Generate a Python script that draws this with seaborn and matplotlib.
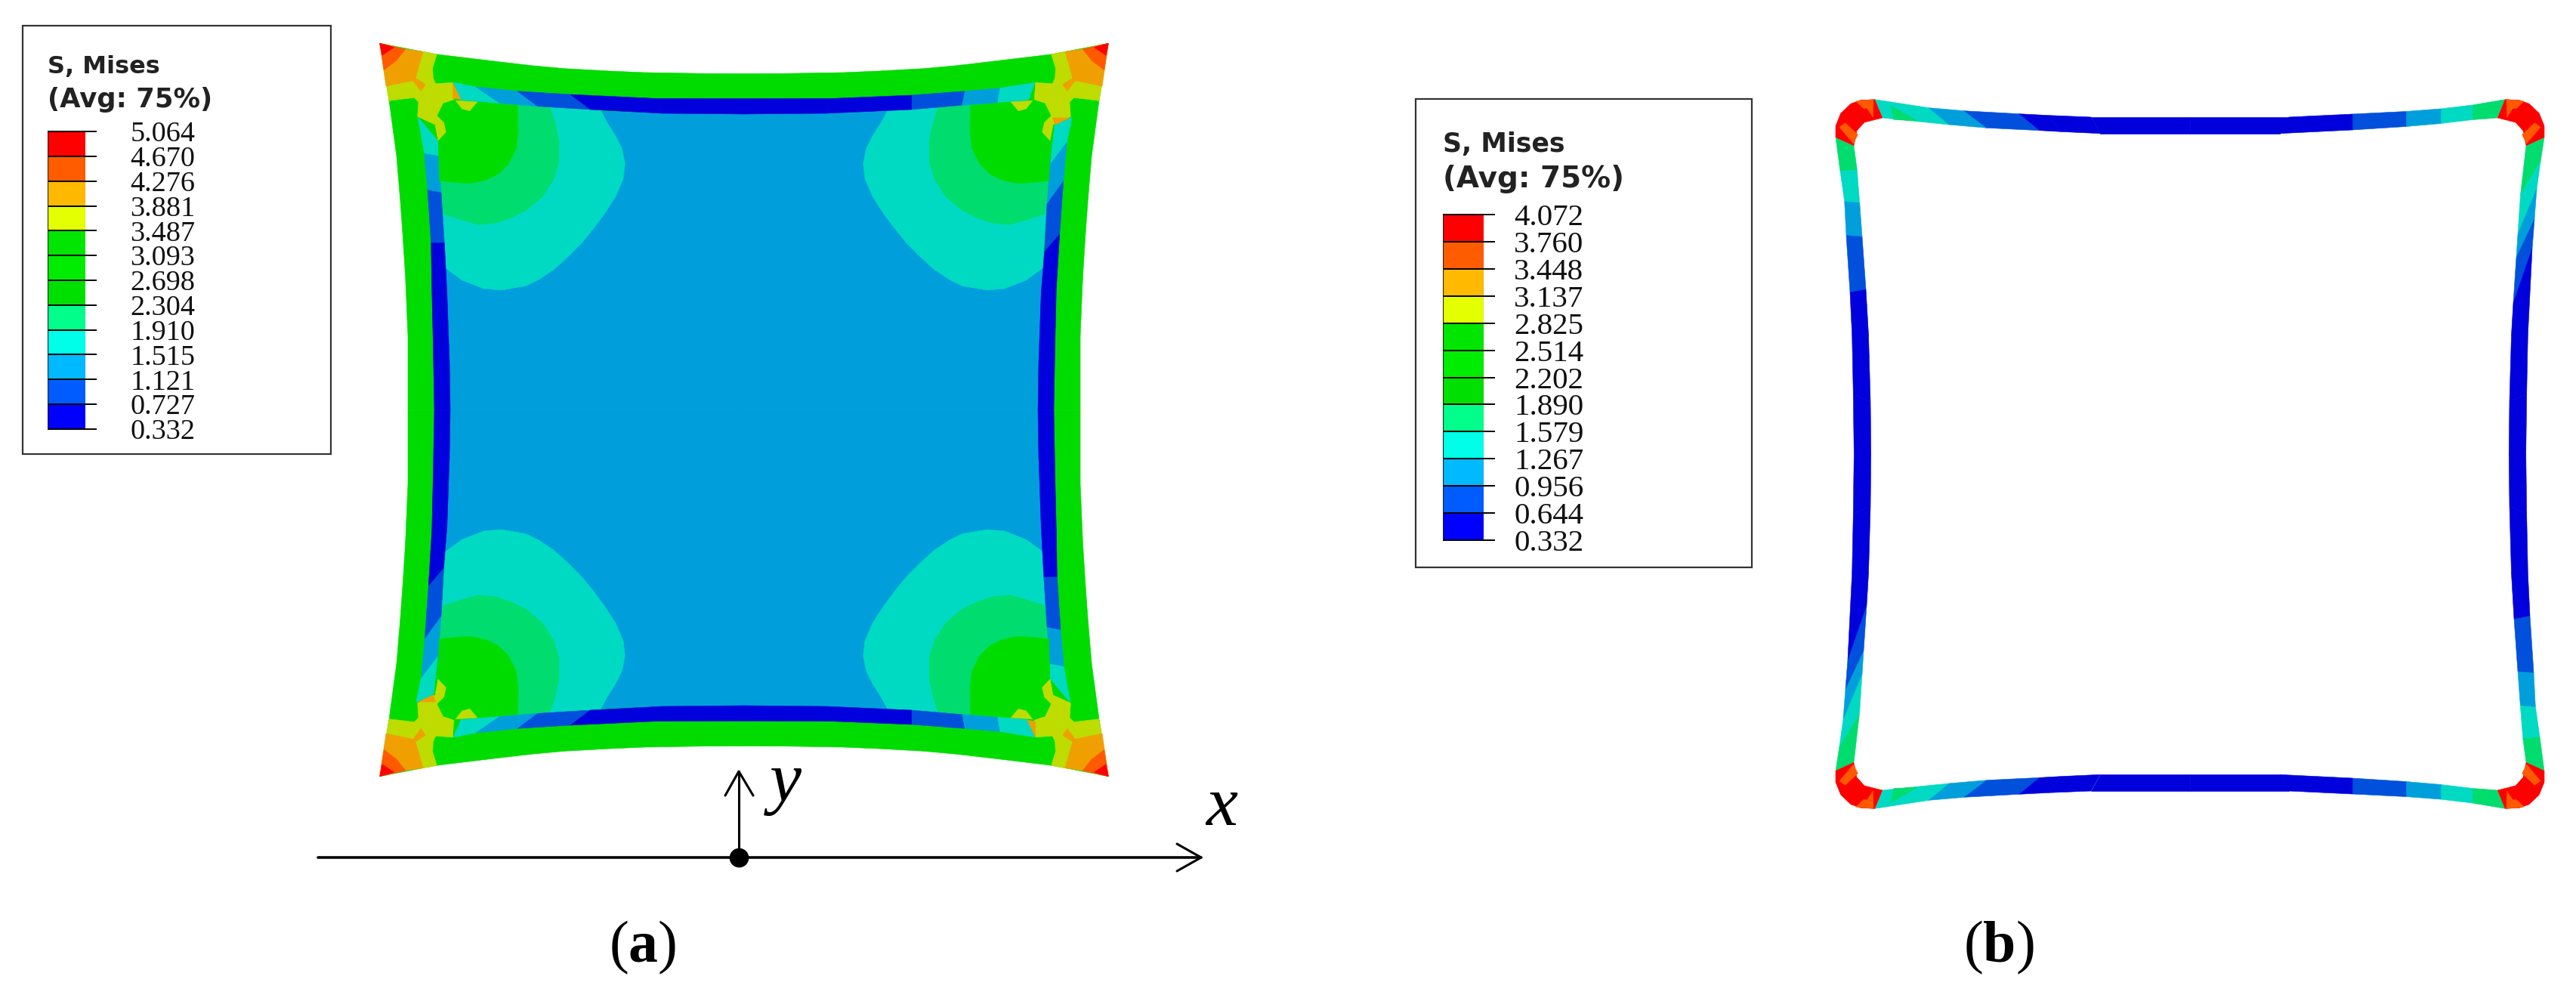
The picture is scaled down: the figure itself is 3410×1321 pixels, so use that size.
"""
Von Mises stress contours of a square membrane, (a) and (b), redrawn with seaborn.
Writes: out.png
"""

import matplotlib
matplotlib.use('Agg')
import matplotlib.pyplot as plt
from matplotlib.colors import ListedColormap
from matplotlib.patches import Rectangle
import numpy as np
import seaborn as sns

W, H = 3410, 1321

# ── Legend values ─────────────────────────────────────────────────────────────
LABELS_A = ['5.064', '4.670', '4.276', '3.881', '3.487', '3.093', '2.698',
            '2.304', '1.910', '1.515', '1.121', '0.727', '0.332']
LABELS_B = ['4.072', '3.760', '3.448', '3.137', '2.825', '2.514', '2.202',
            '1.890', '1.579', '1.267', '0.956', '0.644', '0.332']
LEGEND_COLORS = ['#FF0000', '#FF5C00', '#FFB900', '#E3FF00', '#00E600', '#00EC00',
                 '#00E000', '#00FF8A', '#00FFE8', '#00B9FF', '#005CFF', '#0000FF']

# contour colours are a little darker than the legend swatches
RED, DORANGE, ORANGE, YELLOW = '#FF0000', '#FF5A00', '#EFA000', '#BEDC00'
GREEN, LGREEN, TEAL = '#00DC00', '#00DC6E', '#00DAC2'
BLUE, MBLUE, DBLUE = '#009FDC', '#0050DC', '#0000DC'

# ── Panel (a): corner outlines in image pixels, written for the top-left corner
A_CX, A_CY = 985, 542.5
A_OUTER = [(540, 542.5), (540, 445), (536.7, 367), (533.3, 313), (530, 267), (525, 207), (515, 133),
           (502.7, 57.3), (576.7, 71.7), (660, 81.7), (703, 86.7), (746.7, 90.7), (806.7, 94),
           (853, 96), (931.7, 97.3), (985, 97.5)]
A_INNER = [(596, 542.5), (595, 480), (591.7, 387), (588.3, 333), (583.3, 250), (580, 210), (580, 186.7),
           (610, 131.7), (660, 136.7), (713, 140.7), (793, 146.7), (876.7, 150), (985, 151)]

# band between green rim and plate: rim edge, plate edge, colour of each piece
A_TOP_SLANT_RIM = [(600, 109), (630, 115), (685, 120.7), (755, 125), (866.7, 130.3), (985, 130.7)]
A_TOP_SLANT_IN = [(610, 131.7), (661.7, 136.7), (711.7, 140.7), (781.7, 145), (876.7, 150), (985, 151)]
A_TOP_FLAT_RIM = [(600, 109.3), (646.7, 116.7), (693.3, 120.7), (763.3, 126), (866.7, 130.3), (985, 130.7)]
A_TOP_FLAT_IN = [(608.3, 131.7), (650, 136), (697, 139.3), (763.3, 145), (876.7, 150), (985, 151)]
A_TOP_COLORS = [TEAL, BLUE, MBLUE, DBLUE, DBLUE]
A_SIDE_FLAT_RIM = [(553.3, 155), (561.7, 203.3), (566, 251.7), (570.7, 321.7), (571.7, 383), (573.3, 450), (575, 542.5)]
A_SIDE_FLAT_IN = [(580, 186.7), (580, 206.7), (584, 255), (588.3, 321.7), (591.7, 387), (595, 480), (596, 542.5)]
A_SIDE_SLANT_RIM = [(550.7, 155), (557.7, 188.3), (562.3, 240), (567.3, 310), (571.7, 383), (573.3, 450), (575, 542.5)]
A_SIDE_SLANT_IN = [(574, 166), (579.3, 216.7), (584, 270), (587.3, 333.3), (591.7, 387), (595, 480), (596, 542.5)]
A_SIDE_COLORS = [TEAL, BLUE, MBLUE, DBLUE, DBLUE, DBLUE]

A_TEAL = [(795, 146), (803.3, 161.7), (815, 180), (823.3, 196.7), (827.3, 216.7), (825, 236.7), (815, 260),
          (800, 283.3), (785, 303.3), (770, 321.7), (751.7, 340), (733.3, 356.7), (713.3, 370),
          (696.7, 378.3), (664, 384), (640, 382), (612, 371), (590, 355),
          (583.3, 250), (580, 186.7), (610, 131.7), (713, 140.7)]
A_LGREEN = [(728.3, 142.7), (735, 163.3), (740, 186.7), (740, 213.3), (733.3, 236.7), (718.3, 260),
            (696.7, 278.3), (676.7, 288.3), (656.7, 295), (633.3, 297.3), (613.3, 291.7), (586.7, 283.3),
            (583.3, 250), (580, 186.7), (610, 131.7), (713, 140.7)]
A_BULB = [(685, 139.3), (686, 173.3), (683.3, 196.7), (673.3, 216.7), (660, 230), (643.3, 238.3),
          (623.3, 242.7), (606.7, 241.7), (581.7, 239.3), (580, 187), (591, 175), (588, 162), (579, 153),
          (587, 137), (603, 133), (617, 145), (623, 147), (632, 135)]
A_YELLOW = [(560, 68.3), (578.3, 71.7), (572.7, 90), (573.3, 103.3), (576.7, 110.7),
            (599.3, 109.3), (600.7, 131.7), (586.7, 136.7), (579.3, 153.3), (588.3, 161.7),
            (590.7, 175), (580, 186), (576, 165), (552.7, 154.3), (554, 135), (548.3, 129.3),
            (515, 133.3), (511.7, 114), (543.3, 106.7), (550, 103.3)]
A_YELLOW_SMALL = [(603.3, 133.3), (631.7, 135), (621.7, 146.7), (611.7, 144)]
A_ORANGE = [(502.7, 57.3), (536.7, 65), (560, 68.3), (550, 103.3), (563.3, 111.7),
            (557.3, 120.7), (546.7, 106.7), (511, 114)]
A_SLIVER_UP = [(599.3, 109.3), (610, 131.7), (599.3, 130)]
A_SLIVER_SIDE = [(576.7, 156), (554, 156), (573.3, 165)]
A_DORANGE = [(502.7, 57.3), (536.7, 65), (525, 80), (508.3, 92.7)]
A_RED = [(502.7, 57.3), (521.7, 62.7), (506, 73.3)]

# ── Panel (b): corner outlines in image pixels ────────────────────────────────
B_CX, B_CY = 2899, 601
B_TOP_SLANT_OUT = [(2481.7, 131.7), (2553.3, 142.7), (2600, 146.7), (2673, 150.7), (2711.7, 152.7), (2768, 155), (2899, 155)]
B_TOP_SLANT_IN = [(2491.7, 156), (2580, 165), (2630, 169.3), (2700, 172.7), (2728, 174.3), (2780, 176.7), (2899, 176.7)]
B_TOP_SLANT_COLORS = [TEAL, BLUE, MBLUE, DBLUE, DBLUE, DBLUE]
B_TOP_FLAT_OUT = [(2481.7, 131.7), (2525, 139), (2567, 144), (2613, 147.5), (2684, 151), (2768, 155), (2899, 155)]
B_TOP_FLAT_IN = [(2491.7, 156), (2525, 158.5), (2567, 163.5), (2613, 167.5), (2684, 172), (2780, 176.7), (2899, 176.7)]
B_TOP_FLAT_COLORS = [LGREEN, TEAL, BLUE, MBLUE, DBLUE, DBLUE]
B_SIDE_FLAT_OUT = [(2430, 181.7), (2436, 226.7), (2441.7, 266.7), (2444, 311.7), (2449, 387), (2451.7, 443), (2453.3, 521.7), (2454.3, 601)]
B_SIDE_FLAT_IN = [(2454, 192.7), (2458.3, 225), (2461.7, 268.3), (2465, 313.3), (2470, 383), (2473.5, 443), (2476, 531.7), (2476.7, 601)]
B_SIDE_FLAT_COLORS = [LGREEN, TEAL, BLUE, MBLUE, DBLUE, DBLUE, DBLUE]
B_SIDE_SLANT_OUT = [(2430, 181.7), (2435, 214), (2440, 250), (2443, 290), (2446, 329), (2451.7, 443), (2453.3, 521.7), (2454.3, 601)]
B_SIDE_SLANT_IN = [(2454, 192.7), (2461.5, 258), (2465, 310), (2467, 341), (2471, 401), (2473.5, 443), (2476, 531.7), (2476.7, 601)]
B_CORNER = [(2430, 181.7), (2430, 166.7), (2436.7, 150), (2450, 137.3), (2463, 132.7),
            (2481.7, 131.7), (2491.7, 156), (2468, 162), (2458, 173), (2454, 192.7)]
B_PATCH_1 = [(2435, 168.3), (2442.7, 162.7), (2459.3, 178.3), (2453.3, 190)]
B_PATCH_2 = [(2456.7, 134), (2480, 131.7), (2479.3, 155), (2471.7, 143.3), (2466.7, 143.3)]
B_WEDGE = [(2503.3, 140), (2538.3, 160), (2506.7, 158.3)]

# ── Coordinate axes under panel (a) ───────────────────────────────────────────
XAXIS_X, XAXIS_Y = [421, 1590], [1135, 1135]
XHEAD_X, XHEAD_Y = [1558, 1590, 1558], [1117, 1135, 1153]
YAXIS_X, YAXIS_Y = [978, 978], [1135, 1021]
YHEAD_X, YHEAD_Y = [960, 978, 997], [1053, 1021, 1053]
ORIGIN_X, ORIGIN_Y = [978], [1135]

ALL = ('TL', 'TR', 'BL', 'BR')

# ── Setup ─────────────────────────────────────────────────────────────────────
sns.set_theme(style='white')
plt.rcParams['font.family'] = ['Liberation Serif', 'DejaVu Serif']
plt.rcParams['mathtext.fontset'] = 'custom'
plt.rcParams['mathtext.rm'] = 'Liberation Serif'
plt.rcParams['mathtext.it'] = 'Liberation Serif:italic'
plt.rcParams['mathtext.bf'] = 'Liberation Serif:bold'

fig = plt.figure(figsize=(W / 100, H / 100), dpi=100, facecolor='white')
ax = fig.add_axes([0, 0, 1, 1])


def fill_corners(pts, color, cx, cy, corners=ALL):
    # one measured corner, flipped onto the corners of the plate it also fits
    xs, ys = np.array(pts).T
    for c in corners:
        px = 2 * cx - xs if c[1] == 'R' else xs
        py = 2 * cy - ys if c[0] == 'B' else ys
        ax.fill(px, py, facecolor=color, edgecolor=color, linewidth=0.4)


def strip(first, second, colors, cx, cy, corners=ALL):
    for i, c in enumerate(colors):
        fill_corners([first[i], first[i + 1], second[i + 1], second[i]], c, cx, cy, corners)


def draw_legend(box, bar, labels, pad, size, title_x, title_y, title_sizes):
    ax.add_patch(Rectangle((box[0], box[1]), box[2] - box[0], box[3] - box[1],
                           facecolor='white', edgecolor='#333333', linewidth=1.6, zorder=5))
    ax.text(title_x, title_y[0], 'S, Mises', family='DejaVu Sans', fontweight='bold',
            fontsize=title_sizes[0], color='#222222', va='center', zorder=6)
    ax.text(title_x, title_y[1], '(Avg: 75%)', family='DejaVu Sans', fontweight='bold',
            fontsize=title_sizes[1], color='#222222', va='center', zorder=6)
    cax = fig.add_axes([bar[0] / W, 1 - bar[3] / H, (bar[2] - bar[0]) / W, (bar[3] - bar[1]) / H],
                       zorder=10)
    sns.heatmap(np.arange(12).reshape(-1, 1), cmap=ListedColormap(LEGEND_COLORS), cbar=False,
                linewidths=0, ax=cax, xticklabels=False, yticklabels=False)
    cax.yaxis.tick_right()
    cax.set_yticks(range(13))
    cax.set_yticklabels(labels, fontsize=size, rotation=0, family='Liberation Serif', color='#111111')
    cax.tick_params(axis='y', right=True, left=False, length=11, width=1.4, color='black', pad=pad)
    cax.hlines(range(13), 0, 1, color='black', linewidth=1.4, clip_on=False)
    cax.vlines([0, 1], 0, 12, color='#222222', linewidth=0.8)


# ── Panel (a) ─────────────────────────────────────────────────────────────────
fill_corners(A_OUTER + [(A_CX, A_CY)], GREEN, A_CX, A_CY)
fill_corners(A_INNER + [(A_CX, A_CY)], BLUE, A_CX, A_CY)
fill_corners(A_TEAL, TEAL, A_CX, A_CY)
fill_corners(A_LGREEN, LGREEN, A_CX, A_CY)
strip(A_TOP_SLANT_RIM, A_TOP_SLANT_IN, A_TOP_COLORS, A_CX, A_CY, ('TL', 'BL'))
strip(A_TOP_FLAT_RIM, A_TOP_FLAT_IN, A_TOP_COLORS, A_CX, A_CY, ('TR', 'BR'))
strip(A_SIDE_FLAT_RIM, A_SIDE_FLAT_IN, A_SIDE_COLORS, A_CX, A_CY, ('TL', 'BR'))
strip(A_SIDE_SLANT_RIM, A_SIDE_SLANT_IN, A_SIDE_COLORS, A_CX, A_CY, ('TR', 'BL'))
fill_corners(A_YELLOW, YELLOW, A_CX, A_CY)
fill_corners(A_BULB, GREEN, A_CX, A_CY)
fill_corners(A_YELLOW_SMALL, YELLOW, A_CX, A_CY)
fill_corners(A_ORANGE, ORANGE, A_CX, A_CY)
fill_corners(A_SLIVER_UP, ORANGE, A_CX, A_CY, ('TL', 'BR'))
fill_corners(A_SLIVER_SIDE, ORANGE, A_CX, A_CY, ('TR', 'BL'))
fill_corners(A_DORANGE, DORANGE, A_CX, A_CY)
fill_corners(A_RED, RED, A_CX, A_CY)

# ── Panel (b) ─────────────────────────────────────────────────────────────────
strip(B_TOP_SLANT_OUT, B_TOP_SLANT_IN, B_TOP_SLANT_COLORS, B_CX, B_CY, ('TL', 'BL'))
strip(B_TOP_FLAT_OUT, B_TOP_FLAT_IN, B_TOP_FLAT_COLORS, B_CX, B_CY, ('TR', 'BR'))
strip(B_SIDE_FLAT_OUT, B_SIDE_FLAT_IN, B_SIDE_FLAT_COLORS, B_CX, B_CY, ('TL', 'BR'))
strip(B_SIDE_SLANT_OUT, B_SIDE_SLANT_IN, B_SIDE_FLAT_COLORS, B_CX, B_CY, ('TR', 'BL'))
fill_corners(B_CORNER, RED, B_CX, B_CY)
fill_corners(B_PATCH_1, DORANGE, B_CX, B_CY)
fill_corners(B_PATCH_2, DORANGE, B_CX, B_CY)
fill_corners(B_WEDGE, LGREEN, B_CX, B_CY, ('TL', 'BL'))

# ── x / y axes ────────────────────────────────────────────────────────────────
sns.lineplot(x=XAXIS_X, y=XAXIS_Y, sort=False, estimator=None, color='black', linewidth=2.6, ax=ax)
sns.lineplot(x=XHEAD_X, y=XHEAD_Y, sort=False, estimator=None, color='black', linewidth=2.2, ax=ax)
sns.lineplot(x=YAXIS_X, y=YAXIS_Y, sort=False, estimator=None, color='black', linewidth=2.2, ax=ax)
sns.lineplot(x=YHEAD_X, y=YHEAD_Y, sort=False, estimator=None, color='black', linewidth=2.2, ax=ax)
sns.scatterplot(x=ORIGIN_X, y=ORIGIN_Y, color='black', s=340, linewidth=0, ax=ax, zorder=4)

ax.text(1040, 1038, 'y', style='italic', fontsize=68, ha='center', va='center', color='black')
ax.text(1617, 1070, 'x', style='italic', fontsize=68, ha='center', va='center', color='black')
ax.text(851, 1254, r'($\mathbf{a}$)', fontsize=56, ha='center', va='center', color='black')
ax.text(2646, 1254, r'($\mathbf{b}$)', fontsize=56, ha='center', va='center', color='black')

ax.set_xlim(0, W)
ax.set_ylim(H, 0)
ax.axis('off')

# ── Legends ───────────────────────────────────────────────────────────────────
draw_legend((30.4, 33.5, 438, 601), (63, 174, 112.5, 568), LABELS_A, 32, 27.5, 63, (89, 132), (23, 25.5))
draw_legend((1874, 131, 2319, 751), (1910, 284, 1964, 715), LABELS_B, 18, 29.5, 1910, (191, 237), (25, 28))

fig.savefig('out.png', dpi=100, facecolor='white')
plt.close(fig)
